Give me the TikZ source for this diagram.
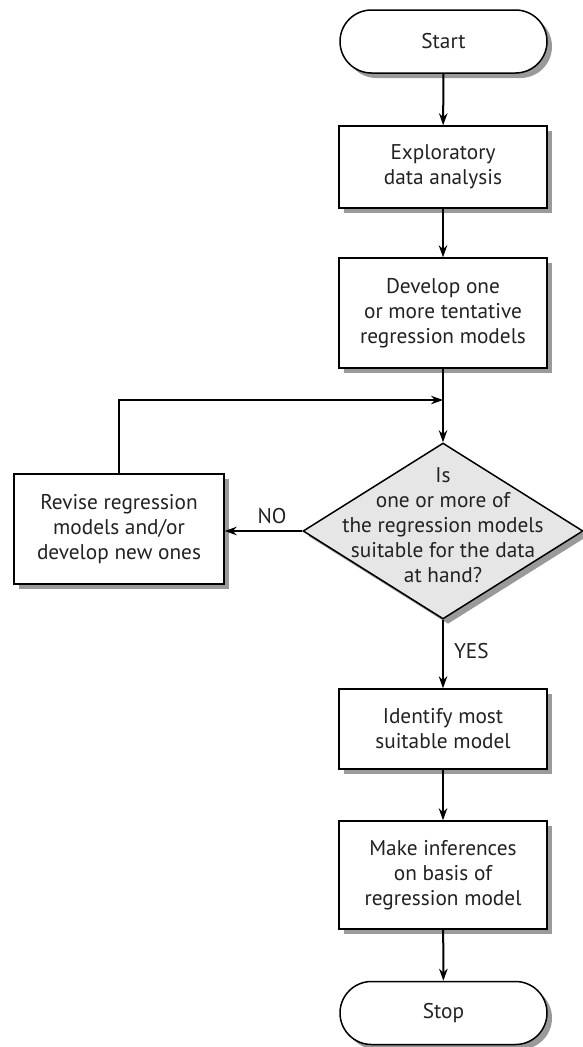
\documentclass[tikz,border=0pt]{standalone}
\usepackage{fontspec}
\setmainfont{PT Sans}
\usetikzlibrary{shapes.geometric,shapes.misc,shadows,arrows.meta}
\definecolor{txt}{HTML}{222222}
\definecolor{shad}{HTML}{9A9A9A}
\definecolor{dfill}{HTML}{E6E6E6}
\tikzset{
  shad/.style={drop shadow={shadow xshift=5pt,shadow yshift=-5pt,fill=shad,opacity=1}},
  proc/.style={draw=black,line width=1.5pt,fill=white,shad,align=center,text=txt,
    minimum width=208pt,inner sep=0pt,font=\fontsize{21.3}{25}\selectfont},
  term/.style={rounded rectangle,draw=black,line width=1.5pt,fill=white,shad,text=txt,
    minimum width=207pt,minimum height=63pt,inner sep=0pt,font=\fontsize{21.3}{25}\selectfont},
  decision/.style={diamond,draw=black,line width=1.5pt,fill=dfill,shad,
    minimum width=280pt,minimum height=176pt,inner sep=0pt},
  lbl/.style={text=txt,align=center,font=\fontsize{21.3}{25}\selectfont,inner sep=0pt},
  arr/.style={draw=black,line width=2pt,-{Stealth[length=12pt,width=8.5pt]}},
}
\begin{document}
\begin{tikzpicture}[x=1pt,y=-1pt]
\useasboundingbox (0,0) rectangle (582,1047);
\node[term] (start) at (443.5,41.5) {Start};
\node[proc,minimum height=82pt] (b1) at (443,167) {Exploratory\\data analysis};
\node[proc,minimum height=110pt] (b2) at (443,313) {Develop one\\or more tentative\\regression models};
\node[decision] (dec) at (443,531) {};
\node[lbl] (dectext) at (443,525) {Is\\one or more of\\the regression models\\suitable for the data\\at hand?};
\node[proc,minimum width=210pt,minimum height=110pt] (rev) at (119,529) {Revise regression\\models and/or\\develop new ones};
\node[proc,minimum height=80pt] (b3) at (443,729) {Identify most\\suitable model};
\node[proc,minimum height=108pt] (b4) at (443,875) {Make inferences\\on basis of\\regression model};
\node[term] (stop) at (443.5,1013) {Stop};
\coordinate (join) at (443,400);
\draw[arr] (start) -- (b1);
\draw[arr] (b1) -- (b2);
\draw[arr] (b2) -- (dec.north);
\draw[arr] (rev.north) |- (join);
\draw[arr] (dec.west) -- (rev.east |- dec.west) node[lbl,pos=0.39,above=6pt] (no) {NO};
\draw[arr] (dec.south) -- (b3.north) node[lbl,pos=0.45,right=10pt] (yes) {YES};
\draw[arr] (b3) -- (b4);
\draw[arr] (b4) -- (stop);
\end{tikzpicture}
\end{document}
